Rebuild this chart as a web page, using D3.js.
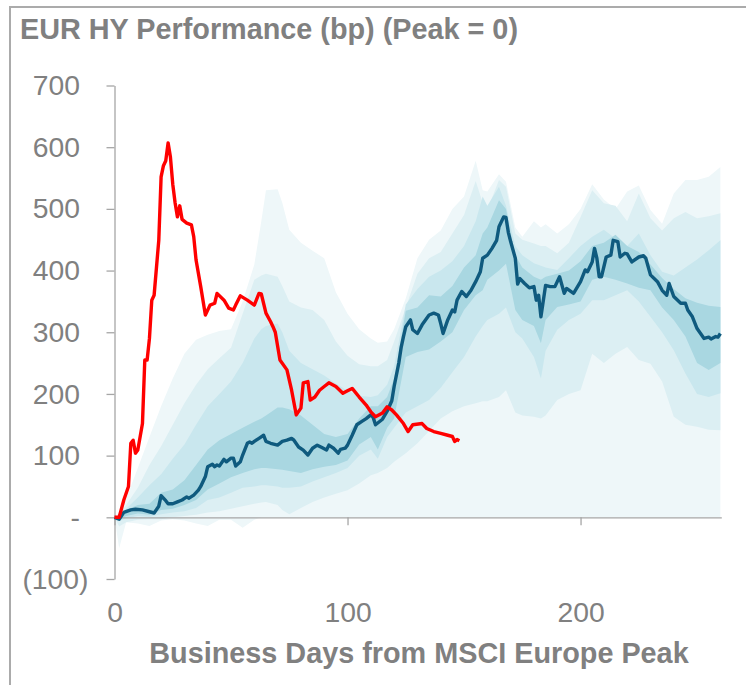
<!DOCTYPE html>
<html>
<head>
<meta charset="utf-8">
<script src="https://cdn.jsdelivr.net/npm/d3@7"></script>
<style>
  html, body { margin: 0; padding: 0; background: #fff; }
  svg { display: block; font-family: "Liberation Sans", Arial, sans-serif; }
</style>
</head>
<body>
<svg id="chart" width="746" height="685"></svg>
<script>
// ---------------- DATA ----------------
const titleText = "EUR HY Performance (bp) (Peak = 0)";
const xTitleText = "Business Days from MSCI Europe Peak";
const yTicks = [-100, 0, 100, 200, 300, 400, 500, 600, 700];
const xTicks = [0, 100, 200];

// Fan-chart band boundaries (bp), historical distribution around the median
const bandDays = [0,2,5,10,15,20,25,30,35,40,45,50,55,60,63,65,70,72,75,80,85,90,95,100,105,110,113,117,120,125,130,135,140,145,150,155,158,160,165,168,172,175,180,183,185,190,195,200,205,210,215,220,225,230,235,240,245,250,255,260];
const outerHigh = [0,8,30,80,130,180,225,265,288,296,302,305,350,410,480,530,532,510,466,445,432,420,365,330,305,290,283,285,305,355,420,450,465,500,520,578,530,528,556,544,470,455,480,470,475,460,475,500,540,515,500,528,538,498,476,525,547,547,552,568];
const wideHigh  = [0,5,20,48,85,115,150,185,215,240,258,275,330,385,392,395,390,375,350,340,336,320,285,262,248,245,245,255,285,340,395,420,430,460,490,545,510,498,547,536,460,450,444,440,440,428,445,487,530,509,505,480,525,485,465,485,495,485,488,493];
const midHigh   = [0,3,14,32,52,70,95,118,150,180,200,220,250,290,305,310,314,300,270,250,240,230,217,205,197,195,198,215,245,345,370,390,400,415,440,480,520,505,536,505,440,425,412,408,405,401,420,440,455,466,452,440,460,425,398,392,405,418,433,449];
const innerHigh = [0,1,12,20,22,40,45,60,85,110,125,135,145,155,160,165,178,178,175,165,150,135,130,135,160,180,180,195,225,335,340,360,358,375,405,425,460,470,514,500,425,405,390,385,390,395,400,415,440,445,458,440,430,410,388,370,355,348,343,341];
const innerLow  = [0,-3,2,6,4,12,14,20,28,45,55,65,72,78,80,80,78,77,75,72,78,82,85,92,118,130,110,145,160,260,268,272,285,300,336,360,368,385,400,411,336,320,310,282,320,341,345,350,385,390,385,379,372,368,340,320,293,250,239,250];
const midLow    = [0,-6,-2,2,1,5,8,10,15,28,32,40,48,50,52,52,50,48,48,50,58,65,72,80,100,110,95,130,145,170,180,190,210,235,260,293,310,320,330,340,300,290,260,225,270,304,320,330,352,352,360,368,350,325,300,271,233,200,195,201];
const wideLow   = [0,-15,-8,-4,-3,-3,0,2,4,8,10,14,18,22,24,25,20,12,5,15,25,32,38,44,55,68,72,80,90,104,120,140,160,172,180,185,188,188,195,206,170,165,163,160,165,190,200,206,265,250,265,276,255,249,220,163,150,147,142,141];
const outerLow  = [0,-50,-8,-10,-14,-5,-3,-5,-10,-14,-4,-4,-17,-4,0,0,0,0,0,0,0,0,0,0,0,0,0,0,0,0,0,0,0,0,0,0,0,0,0,0,0,0,0,0,0,0,0,0,0,0,0,0,0,0,0,0,0,0,0,0];

// Median historical path (dark blue)
const medianDays = [0,2,4,7,9,12,15,17,19,20,22,23,25,27,29,31,32,34,36,37,39,40,42,43,44,45,47,48,50,51,52,54,55,57,58,59,60,62,64,65,67,70,72,74,76,77,79,81,83,85,87,89,91,92,94,96,97,99,100,102,104,106,108,110,111,112,115,117,119,120,122,123,124,125,127,128,130,132,135,137,139,140,141,143,145,146,147,149,151,153,155,157,158,160,162,164,165,167,168,169,170,172,173,174,176,178,180,181,182,183,185,187,189,191,193,194,197,200,202,203,205,206,207,208,209,211,213,214,216,217,219,220,222,225,227,228,230,233,235,237,238,240,243,245,246,248,250,253,255,256,258,259,260];
const medianVals = [0,-3,8,12,13,12,9,7,18,35,27,22,22,25,28,33,31,36,44,50,66,82,86,82,85,83,94,90,96,96,83,90,101,120,122,120,123,128,133,123,120,117,123,125,128,125,114,109,101,112,117,113,109,117,112,104,110,112,117,133,150,155,160,166,162,150,159,172,189,212,250,275,293,309,320,304,298,312,328,331,328,314,298,320,336,333,352,366,358,368,382,398,420,425,436,449,471,487,486,462,447,420,378,387,379,372,374,352,360,325,376,374,374,390,363,371,363,382,401,398,414,436,420,390,390,422,425,449,447,422,428,427,414,422,424,420,393,382,368,360,379,358,347,347,336,325,306,290,292,289,293,292,298];

// Current episode (red)
const currentDays = [0,2,4,6,7,8,9,10,12,13,14,15,16,17,19,20,21,22,23,24,25,26,27,28,29,31,33,34,35,37,39,41,43,44,47,49,51,52,54,57,60,62,63,65,67,68,69,71,74,76,78,80,81,83,84,86,88,90,92,95,98,100,102,105,108,110,112,115,117,119,121,124,126,128,132,134,137,140,143,145,146,147,148];
const currentVals = [0,0,28,50,120,125,104,109,152,255,255,290,352,360,449,552,570,578,607,584,540,510,487,505,483,477,474,455,417,374,328,344,347,363,352,339,336,344,359,352,344,363,362,331,317,309,300,255,239,206,166,177,218,220,190,195,206,212,218,212,201,205,209,195,182,171,163,169,179,174,166,152,139,150,152,144,139,136,133,131,123,126,124];

// ---------------- CHART ----------------
const svg = d3.select("#chart");
const gray = "#808080";
const axisGray = "#a6a6a6";

const x = d3.scaleLinear().domain([0, 260.4]).range([114.5, 721.3]);
const y = d3.scaleLinear().domain([-100, 700]).range([579, 85.5]);

// frame
svg.append("path")
  .attr("d", "M10,685 L10,7 L746,7")
  .attr("fill", "none").attr("stroke", "#ababab").attr("stroke-width", 2);

// title
svg.append("text")
  .attr("x", 20).attr("y", 39)
  .attr("font-size", 28.8).attr("font-weight", "bold").attr("fill", gray)
  .text(titleText);

// bands
const bandPairs = [
  [outerLow, outerHigh, "#eef7f9"],
  [wideLow, wideHigh, "#dceff3"],
  [midLow, midHigh, "#c9e7ee"],
  [innerLow, innerHigh, "#a9d7e1"]
];
bandPairs.forEach(([lo, hi, col]) => {
  const area = d3.area()
    .x((d, i) => x(bandDays[i]))
    .y0((d, i) => y(lo[i]))
    .y1((d, i) => y(hi[i]));
  svg.append("path").datum(bandDays).attr("d", area).attr("fill", col);
});

// y axis
const yAxis = d3.axisLeft(y).tickValues(yTicks).tickSize(8).tickSizeOuter(0).tickPadding(26.5)
  .tickFormat(v => v < 0 ? "(" + Math.abs(v) + ")" : (v === 0 ? "-" : String(v)));
const gy = svg.append("g").attr("transform", `translate(${x(0)},0)`).call(yAxis);
gy.selectAll("path, line").attr("stroke", axisGray).attr("stroke-width", 1.3);
gy.selectAll("text").attr("fill", gray).attr("font-size", 28.3)
  .attr("font-family", "'Liberation Sans', Arial, sans-serif")
  .attr("dx", d => d < 0 ? 8.5 : 0);

// x axis
const xAxis = d3.axisBottom(x).tickValues(xTicks).tickSize(8).tickSizeOuter(0).tickPadding(77).tickFormat(d3.format("d"));
const gx = svg.append("g").attr("transform", `translate(0,${y(0)})`).call(xAxis);
gx.selectAll("path, line").attr("stroke", axisGray).attr("stroke-width", 1.3);
gx.selectAll("text").attr("fill", gray).attr("font-size", 28.3)
  .attr("font-family", "'Liberation Sans', Arial, sans-serif");

// x title
svg.append("text")
  .attr("x", 419).attr("y", 663).attr("text-anchor", "middle")
  .attr("font-size", 28.8).attr("font-weight", "bold").attr("fill", gray)
  .text(xTitleText);

// lines
const line = d3.line().x(d => x(d[0])).y(d => y(d[1]));
svg.append("path")
  .datum(medianDays.map((d, i) => [d, medianVals[i]]))
  .attr("d", line).attr("fill", "none").attr("stroke", "#0f5a7e")
  .attr("stroke-width", 3.4).attr("stroke-linejoin", "round");
svg.append("path")
  .datum(currentDays.map((d, i) => [d, currentVals[i]]))
  .attr("d", line).attr("fill", "none").attr("stroke", "#ff0000")
  .attr("stroke-width", 3.4).attr("stroke-linejoin", "round");
</script>
</body>
</html>
